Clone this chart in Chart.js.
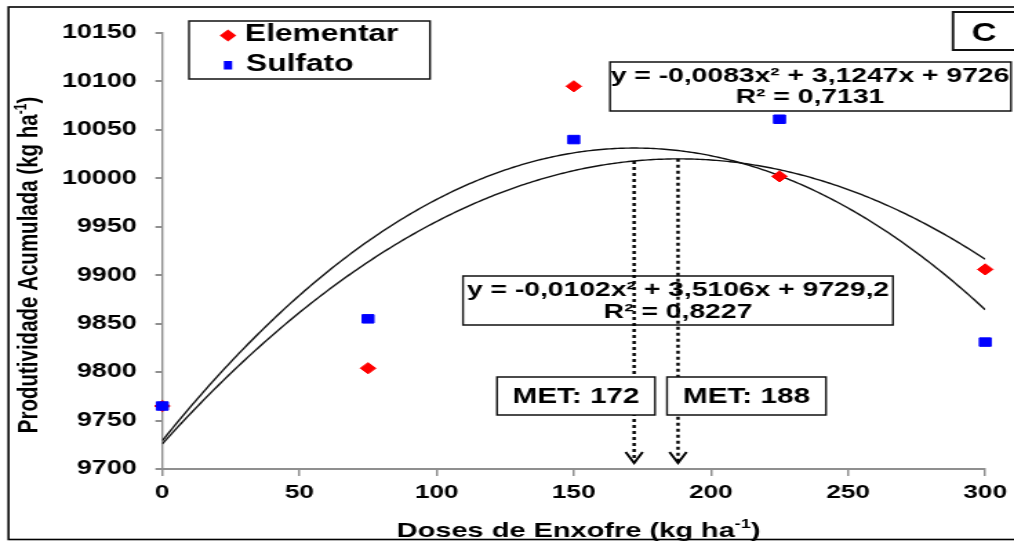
<!DOCTYPE html>
<html>
<head>
<meta charset="utf-8">
<script src="https://cdn.jsdelivr.net/npm/chart.js@4.4.1/dist/chart.umd.min.js"></script>
<style>
  html, body { margin: 0; padding: 0; background: #fff; overflow: hidden; }
  /* the drawing surface is laid out narrow and stretched horizontally */
  #frame { position: absolute; left: 0; top: 0; width: 735px; height: 541px;
           transform: scaleX(1.379592); transform-origin: 0 0; }
</style>
</head>
<body>
<div id="frame"><canvas id="chart"></canvas></div>
<script>
// ---- data ----
const doses = [0, 75, 150, 225, 300];
const elementar = [9765, 9804, 10095, 10002, 9906];
const sulfato = [9765, 9855, 10040, 10061, 9831];
const fitElementar = [-0.0083, 3.1247, 9726];    // a, b, c of y = a·x² + b·x + c
const fitSulfato = [-0.0102, 3.5106, 9729.2];
const r2Elementar = 0.7131;
const r2Sulfato = 0.8227;
const metValues = [172, 188];
const xTicks = [0, 50, 100, 150, 200, 250, 300];
const yTicks = [9700, 9750, 9800, 9850, 9900, 9950, 10000, 10050, 10100, 10150];

// ---- helpers ----
const S = 1014 / 735;            // horizontal stretch of the canvas
const hx = v => v / S;           // page x -> canvas x
const FONT = "'Liberation Sans', Arial, sans-serif";
const bold = size => `bold ${size}px ${FONT}`;
const comma = v => String(v).replace('.', ',');
const quad = (f, x) => f[0] * x * x + f[1] * x + f[2];
const eqText = f => `y = ${comma(f[0])}x² + ${comma(f[1])}x + ${comma(f[2])}`;
const r2Text = r => `R² = ${comma(r)}`;

function curve(f) {
  const pts = [];
  const x0 = doses[0], x1 = doses[doses.length - 1];
  for (let x = x0; x <= x1; x += 1) pts.push({ x, y: quad(f, x) });
  return pts;
}
const pairs = ys => doses.map((d, i) => ({ x: d, y: ys[i] }));

function box(ctx, x1, y1, x2, y2, fill, lw) {
  ctx.save();
  ctx.beginPath();
  ctx.rect(hx(x1), y1, hx(x2) - hx(x1), y2 - y1);
  if (fill) { ctx.fillStyle = fill; ctx.fill(); }
  ctx.lineWidth = lw;
  ctx.strokeStyle = '#111';
  ctx.stroke();
  ctx.restore();
}

function text(ctx, str, x, baseline, size, align) {
  ctx.save();
  ctx.font = bold(size);
  ctx.fillStyle = '#000';
  ctx.textAlign = align || 'center';
  ctx.textBaseline = 'alphabetic';
  ctx.fillText(str, hx(x), baseline);
  ctx.restore();
}

// title with a superscript part, caps centred on (cx, cy)
function runs(ctx, parts, cx, cy, size, rotate) {
  ctx.save();
  ctx.translate(cx, cy);
  if (rotate) ctx.rotate(-Math.PI / 2);
  const sup = Math.round(size * 0.6);
  let total = 0;
  parts.forEach(p => {
    ctx.font = bold(p.sup ? sup : size);
    p.w = ctx.measureText(p.t).width;
    total += p.w;
  });
  let x = -total / 2;
  const base = size * 0.36;
  ctx.fillStyle = '#000';
  ctx.textAlign = 'left';
  ctx.textBaseline = 'alphabetic';
  parts.forEach(p => {
    ctx.font = bold(p.sup ? sup : size);
    ctx.fillText(p.t, x, p.sup ? base - size * 0.4 : base);
    x += p.w;
  });
  ctx.restore();
}

function diamond(ctx, x, y, r, color) {
  ctx.beginPath();
  ctx.moveTo(x - r, y); ctx.lineTo(x, y - r); ctx.lineTo(x + r, y); ctx.lineTo(x, y + r);
  ctx.closePath();
  ctx.fillStyle = color; ctx.fill();
}

// ---- text boxes, arrows, legend, frame ----
const overlay = {
  id: 'overlay',
  afterDatasetsDraw(chart) {
    const ctx = chart.ctx;
    const xs = chart.scales.x, ys = chart.scales.y;

    // Sulfato fit equation (open box, arrows run across it)
    box(ctx, 463, 276, 893, 325, null, 1.4);
    text(ctx, eqText(fitSulfato), 678, 296, 20.5);
    text(ctx, r2Text(r2Sulfato), 678, 318, 20.5);

    // dotted arrows at the dose of maximum efficiency
    ctx.save();
    ctx.strokeStyle = '#000';
    metValues.forEach(m => {
      const x = xs.getPixelForValue(m);
      const top = ys.getPixelForValue(quad(fitElementar, m));
      const tip = ys.bottom - 6;
      ctx.setLineDash([3, 3]);
      ctx.lineWidth = 2.4;
      ctx.beginPath(); ctx.moveTo(x, top); ctx.lineTo(x, tip - 1); ctx.stroke();
      ctx.setLineDash([]);
      ctx.lineWidth = 1.9;
      ctx.beginPath();
      ctx.moveTo(x - hx(8.5), tip - 11); ctx.lineTo(x, tip); ctx.lineTo(x + hx(8.5), tip - 11);
      ctx.stroke();
    });
    ctx.restore();

    // MET labels
    box(ctx, 497, 377, 655, 415, '#fff', 1.4);
    text(ctx, `MET: ${metValues[0]}`, 576, 403, 21.5);
    box(ctx, 667, 377, 826, 415, '#fff', 1.4);
    text(ctx, `MET: ${metValues[1]}`, 746.5, 403, 21.5);

    // Elementar fit equation
    box(ctx, 610, 62, 1011, 111, '#fff', 1.4);
    text(ctx, eqText(fitElementar), 810, 82, 20.5);
    text(ctx, r2Text(r2Elementar), 810, 103, 20.5);

    // legend
    box(ctx, 189, 21, 430, 79, '#fff', 1.4);
    diamond(ctx, hx(228), 35.5, 6, '#ff0000');
    ctx.fillStyle = '#0000ff';
    ctx.fillRect(hx(228) - 3, 61, 6, 8.5);
    text(ctx, 'Elementar', 245, 41, 23, 'left');
    text(ctx, 'Sulfato', 246, 70.5, 23, 'left');

    // panel letter
    box(ctx, 953, 12, 1030, 50, '#fff', 1.8);
    text(ctx, 'C', 984, 40.5, 25);

    // axis titles
    runs(ctx, [{ t: 'Doses de Enxofre (kg ha' }, { t: '-1', sup: true }, { t: ')' }],
         hx(578.5), 529, 21, false);
    runs(ctx, [{ t: 'Produtividade Acumulada (kg ha' }, { t: '-1', sup: true }, { t: ')' }],
         hx(27.5), 265, 20.5, true);

    // outer frame
    ctx.save();
    ctx.lineWidth = 1.6;
    ctx.strokeStyle = '#000';
    ctx.strokeRect(hx(8.5), 7, hx(1040) - hx(8.5), 532.5);
    ctx.restore();
  }
};

const axisGrey = '#8f8f8f';

new Chart(document.getElementById('chart'), {
  type: 'scatter',
  data: {
    datasets: [
      {
        label: 'Sulfato',
        data: pairs(sulfato),
        pointStyle: 'rect',
        pointRadius: 6,
        borderWidth: 1,
        backgroundColor: '#0000ff',
        borderColor: '#0000ff',
        clip: false,
        order: 0
      },
      {
        label: 'Elementar',
        data: pairs(elementar),
        pointStyle: 'rectRot',
        pointRadius: 5.6,
        borderWidth: 1,
        backgroundColor: '#ff0000',
        borderColor: '#ff0000',
        clip: false,
        order: 1
      },
      {
        type: 'line',
        label: 'Polinômio (Elementar)',
        data: curve(fitElementar),
        borderColor: '#111',
        borderWidth: 1.4,
        pointRadius: 0,
        fill: false,
        order: 2
      },
      {
        type: 'line',
        label: 'Polinômio (Sulfato)',
        data: curve(fitSulfato),
        borderColor: '#111',
        borderWidth: 1.4,
        pointRadius: 0,
        fill: false,
        order: 3
      }
    ]
  },
  options: {
    responsive: true,
    maintainAspectRatio: false,
    animation: false,
    events: [],
    layout: { padding: { left: 0, right: 19.8, top: 33, bottom: 0 } },
    plugins: { legend: { display: false }, tooltip: { enabled: false } },
    scales: {
      x: {
        type: 'linear',
        min: 0,
        max: 300,
        afterBuildTicks: s => { s.ticks = xTicks.map(v => ({ value: v })); },
        afterFit: s => { s.height = 72; },
        border: { display: true, color: axisGrey, width: 2 },
        grid: { drawOnChartArea: false, drawTicks: true, tickLength: 7, color: axisGrey, lineWidth: 1.5 },
        ticks: {
          padding: 5,
          color: '#000',
          font: { family: FONT, size: 19, weight: 'bold' },
          callback: v => String(v)
        }
      },
      y: {
        type: 'linear',
        min: 9700,
        max: 10150,
        afterBuildTicks: s => { s.ticks = yTicks.map(v => ({ value: v })); },
        afterFit: s => { s.width = 117.65; },
        border: { display: true, color: axisGrey, width: 1.4 },
        grid: { drawOnChartArea: false, drawTicks: true, tickLength: 5, color: axisGrey, lineWidth: 2 },
        ticks: {
          padding: 13.5,
          color: '#000',
          font: { family: FONT, size: 19.5, weight: 'bold' },
          callback: v => String(v)
        }
      }
    }
  },
  plugins: [overlay]
});
</script>
</body>
</html>
